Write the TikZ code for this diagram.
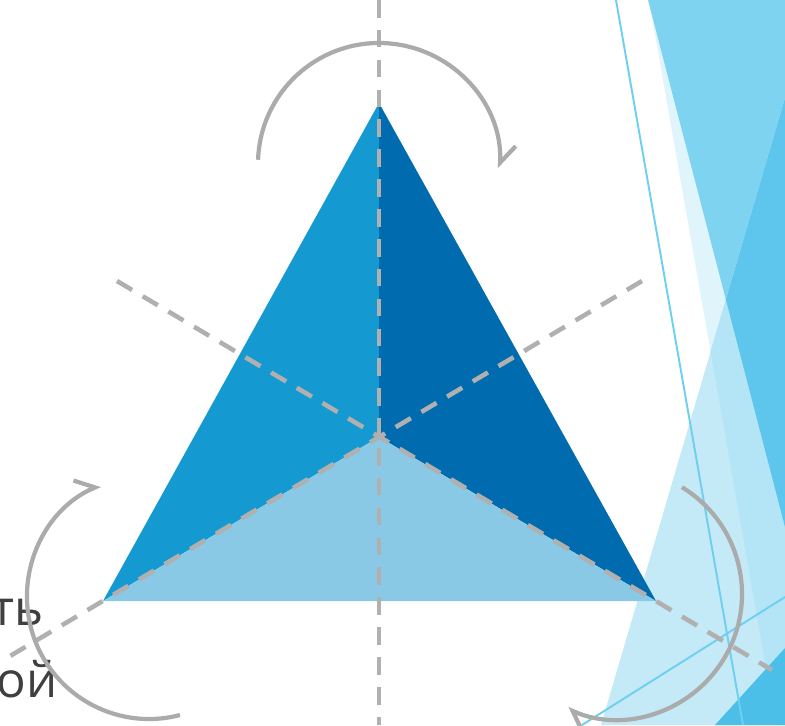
\documentclass[tikz,border=0pt]{standalone}
\usepackage{fontspec}
\setmainfont{Open Sans}
\usetikzlibrary{arrows.meta}

\definecolor{faceleft}{HTML}{1599D1}
\definecolor{faceright}{HTML}{006BAE}
\definecolor{facebottom}{HTML}{89C9E6}
\definecolor{axisgray}{HTML}{B0B0B0}
\definecolor{arcgray}{HTML}{ABABAB}
\definecolor{textgray}{HTML}{3F3F3F}
\definecolor{palestrip}{HTML}{E0F4FB}
\definecolor{skyblue}{HTML}{7DD3F0}
\definecolor{iceblue}{HTML}{C5EAF7}
\definecolor{icepale}{HTML}{B3E5F6}
\definecolor{skydeep}{HTML}{5EC6EC}
\definecolor{deepcorner}{HTML}{4BBFE8}
\definecolor{raycolor}{HTML}{6ECFF0}

\tikzset{
  axisline/.style={draw=axisgray, line width=2.6pt, dash pattern=on 10pt off 7pt},
  turnarrow/.style={draw=arcgray, line width=2.4pt,
    -{Straight Barb[left, length=0.34cm, width=0.6cm]}},
  thinray/.style={draw=raycolor, line width=1.1pt},
  wordend/.style={text=textgray, font=\fontsize{28}{41}\selectfont, inner sep=0pt, anchor=base east},
}

\begin{document}
\begin{tikzpicture}[x=0.02cm, y=0.02cm]
    \useasboundingbox (0,0) rectangle (785,725);
    \begin{scope}
    \clip (0,0) rectangle (785,725);

    % Background facets on the right
    \fill[palestrip] (649,725) -- (785,725) -- (785,0) -- (776,0) -- cycle;
    \fill[skyblue] (648,725) -- (785,725) -- (785,198) -- cycle;
    \fill[iceblue] (785,627) -- (601,0) -- (785,0) -- cycle;
    \begin{scope}
      \clip (785,627) -- (601,0) -- (785,0) -- cycle;
      \fill[icepale] (649,725) -- (785,725) -- (785,0) -- (776,0) -- cycle;
      \fill[skydeep] (648,725) -- (785,725) -- (785,198) -- cycle;
    \end{scope}
    \fill[deepcorner] (785,77) -- (715,0) -- (785,0) -- cycle;
    \draw[thinray] (616,725) -- (743,0);
    \draw[thinray] (785,128) -- (582,0);

    % Cut-off words on the left
    \node[wordend] (wordend1) at (44,100) {ть};
    \node[wordend] (wordend2) at (58,28) {ой};

    % Pyramid seen from above
    \coordinate (apex) at (379,622);
    \coordinate (leftv) at (103,124);
    \coordinate (rightv) at (656,124);
    \coordinate (mid) at (379,288);
    \fill[faceleft] (apex) -- (mid) -- (leftv) -- cycle;
    \fill[faceright] (apex) -- (rightv) -- (mid) -- cycle;
    \fill[facebottom] (leftv) -- (mid) -- (rightv) -- cycle;

    % Axes of symmetry
    \coordinate (vtop) at (379,725);
    \coordinate (vbot) at (379,0);
    \coordinate (aend1) at (117,444);
    \coordinate (aend2) at (772,55);
    \coordinate (bend1) at (642,444);
    \coordinate (bend2) at (0,63);
    \draw[axisline] (vtop) -- (vbot);
    \draw[axisline] (aend1) -- (aend2);
    \draw[axisline] (bend1) -- (bend2);

    % Rotation arrows round the vertices
    \coordinate (toppivot) at (379,561);
    \coordinate (leftpivot) at (149,128);
    \coordinate (rightpivot) at (617,131);
    \draw[turnarrow] ([shift={(178:121)}]toppivot) arc[start angle=178, end angle=-2, radius=121];
    \draw[turnarrow] ([shift={(284.7:122)}]leftpivot) arc[start angle=284.7, end angle=113.6, radius=122];
    \draw[turnarrow] ([shift={(58.7:125)}]rightpivot) arc[start angle=58.7, end angle=-113.3, radius=125];
    \end{scope}
\end{tikzpicture}
\end{document}
